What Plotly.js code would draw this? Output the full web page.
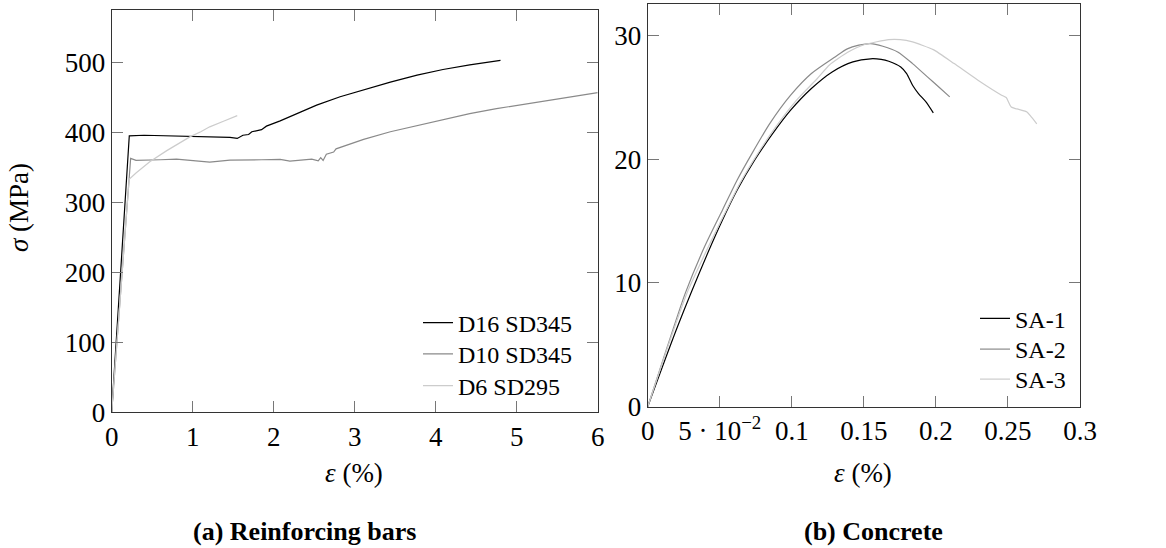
<!DOCTYPE html>
<html><head><meta charset="utf-8">
<script src="https://cdn.plot.ly/plotly-3.0.1.min.js"></script>
<style>html,body{margin:0;padding:0;background:#fff}#chart{width:1166px;height:548px}</style>
</head><body><div id="chart"></div>
<script>
// (a) Reinforcing bars: strain (%) vs stress (MPa)
const d16Strain = [0, 0.217, 0.4, 0.6, 0.8, 1.0, 1.2, 1.46, 1.55, 1.62, 1.69, 1.73, 1.85, 1.91, 2.08, 2.28, 2.53, 2.82, 3.11, 3.44, 3.77, 4.09, 4.42, 4.80];
const d16Stress = [0, 395, 396, 395.5, 395, 394.5, 394, 393, 391.4, 396, 397, 401, 404, 409, 416.6, 427, 439, 451, 461, 472, 482, 490, 496.5, 503];
const d10Strain = [0, 0.234, 0.3, 0.39, 0.6, 0.8, 1.0, 1.21, 1.46, 1.62, 1.85, 2.08, 2.20, 2.47, 2.55, 2.58, 2.61, 2.65, 2.70, 2.74, 2.77, 2.86, 3.11, 3.44, 3.77, 4.09, 4.42, 4.75, 5.08, 5.41, 5.74, 6.0];
const d10Stress = [0, 363, 360, 360, 361, 362, 360, 357.6, 360.4, 361, 361, 361.4, 359, 361.9, 359.5, 364, 360, 369, 371, 372, 376.6, 380, 390, 401, 410, 419, 427, 434, 440, 447, 452, 457];
const d6Strain = [0, 0.215, 0.3, 0.47, 0.68, 0.8, 0.97, 1.1, 1.21, 1.38, 1.55];
const d6Stress = [0, 333, 342, 358, 374, 382, 394, 401, 408, 416, 424];

// (b) Concrete: strain (%) vs stress (MPa)
const sa1Strain = [0, 0.0208, 0.0416, 0.0519, 0.0621, 0.0745, 0.0868, 0.0992, 0.1136, 0.128, 0.1424, 0.1547, 0.162, 0.1673, 0.1756, 0.1797, 0.1838, 0.1879, 0.1931, 0.1982];
const sa1Stress = [0, 6.5, 12.39, 15.08, 17.5, 19.97, 22.07, 23.95, 25.7, 27.04, 27.85, 28.1, 28.05, 27.9, 27.44, 26.9, 25.96, 25.29, 24.62, 23.73];
const sa2Strain = [0, 0.0135, 0.0261, 0.0395, 0.0519, 0.0621, 0.0724, 0.0848, 0.0992, 0.1136, 0.13, 0.1385, 0.1465, 0.1547, 0.1632, 0.1735, 0.1838, 0.1941, 0.2024, 0.2096];
const sa2Stress = [0, 4.8, 9.17, 12.93, 15.89, 18.31, 20.46, 22.88, 25.16, 26.91, 28.25, 28.9, 29.2, 29.33, 29.11, 28.65, 27.71, 26.64, 25.78, 25.02];
const sa3Strain = [0, 0.0138, 0.0272, 0.0405, 0.0529, 0.064, 0.0765, 0.0889, 0.1033, 0.1177, 0.1261, 0.1385, 0.1506, 0.1673, 0.1753, 0.1838, 0.1982, 0.2127, 0.2292, 0.2456, 0.2488, 0.2523, 0.2632, 0.2655, 0.2700];
const sa3Stress = [0, 4.8, 9.17, 12.53, 15.48, 18.04, 20.46, 22.6, 24.76, 26.51, 27.6, 28.6, 29.25, 29.65, 29.65, 29.46, 28.84, 27.71, 26.37, 25.16, 24.97, 24.21, 23.81, 23.5, 22.85];

const xTicksA = [0, 1, 2, 3, 4, 5, 6];
const yTicksA = [0, 100, 200, 300, 400, 500];
const xTicksB = [0, 0.05, 0.1, 0.15, 0.2, 0.25, 0.3];
const xTickTextB = ['0', '5 · 10<sup>−2</sup>', '0.1', '0.15', '0.2', '0.25', '0.3'];
const yTicksB = [0, 10, 20, 30];

const SERIF = 'Liberation Serif';
const cBlack = '#000000', cGray = '#8a8a8a', cLight = '#cccccc';

const traces = [
  {x: d16Strain, y: d16Stress, name: 'D16 SD345', line: {color: cBlack, width: 1.2}, xaxis: 'x', yaxis: 'y', legend: 'legend'},
  {x: d10Strain, y: d10Stress, name: 'D10 SD345', line: {color: cGray, width: 1.2}, xaxis: 'x', yaxis: 'y', legend: 'legend2'},
  {x: d6Strain, y: d6Stress, name: 'D6 SD295', line: {color: cLight, width: 1.2}, xaxis: 'x', yaxis: 'y', legend: 'legend3'},
  {x: sa1Strain, y: sa1Stress, name: 'SA-1', line: {color: cBlack, width: 1.2, shape: 'spline', smoothing: 0.7}, xaxis: 'x2', yaxis: 'y2', legend: 'legend4'},
  {x: sa2Strain, y: sa2Stress, name: 'SA-2', line: {color: cGray, width: 1.2, shape: 'spline', smoothing: 0.7}, xaxis: 'x2', yaxis: 'y2', legend: 'legend5'},
  {x: sa3Strain, y: sa3Stress, name: 'SA-3', line: {color: cLight, width: 1.2, shape: 'spline', smoothing: 0.5}, xaxis: 'x2', yaxis: 'y2', legend: 'legend6'}
].map(t => Object.assign({type: 'scatter', mode: 'lines', hoverinfo: 'skip'}, t));

const axisBase = {
  showline: true, linecolor: '#333', linewidth: 1, mirror: 'ticks',
  ticks: 'inside', ticklen: 11, tickwidth: 1, tickcolor: '#777',
  showgrid: false, zeroline: false, fixedrange: true,
  tickfont: {family: SERIF, size: 27, color: '#000'}
};

const W = 1166, H = 548;
function leg(xpx, toppx) {
  return {x: xpx / W, y: 1 - toppx / H, xanchor: 'left', yanchor: 'top', bgcolor: 'rgba(0,0,0,0)', borderwidth: 0,
    font: {family: SERIF, size: 24, color: '#000'}, tracegroupgap: 0};
}
const layout = {
  width: W, height: H,
  margin: {l: 0, r: 0, t: 0, b: 0},
  font: {family: SERIF, color: '#000'},
  paper_bgcolor: '#fff', plot_bgcolor: '#fff',
  showlegend: true,
  xaxis: Object.assign({}, axisBase, {domain: [111.7 / W, 597.7 / W], range: [0, 6], tickvals: xTicksA, ticktext: xTicksA.map(String), anchor: 'y'}),
  yaxis: Object.assign({}, axisBase, {domain: [1 - 412.3 / H, 1 - 10 / H], range: [0, 575], tickvals: yTicksA, ticktext: yTicksA.map(String), anchor: 'x'}),
  xaxis2: Object.assign({}, axisBase, {domain: [647.7 / W, 1080 / W], range: [0, 0.3], tickvals: xTicksB, ticktext: xTickTextB, anchor: 'y2'}),
  yaxis2: Object.assign({}, axisBase, {domain: [1 - 406.7 / H, 1 - 4.3 / H], range: [0, 32.5], tickvals: yTicksB, ticktext: yTicksB.map(String), anchor: 'x2'}),
  legend: leg(418, 300.5),
  legend2: leg(418, 331.8),
  legend3: leg(418, 363.5),
  legend4: leg(975, 296.3),
  legend5: leg(975, 327),
  legend6: leg(975, 357),
  annotations: [
    {text: '<i>ε</i> (%)', x: 354 / W, y: 1 - 473 / H, xref: 'paper', yref: 'paper', showarrow: false, xanchor: 'center', yanchor: 'middle', font: {family: SERIF, size: 27, color: '#000'}},
    {text: '<i>ε</i> (%)', x: 863 / W, y: 1 - 473 / H, xref: 'paper', yref: 'paper', showarrow: false, xanchor: 'center', yanchor: 'middle', font: {family: SERIF, size: 27, color: '#000'}},
    {text: '<i>σ</i> (MPa)', x: 19 / W, y: 1 - 208 / H, xref: 'paper', yref: 'paper', showarrow: false, textangle: -90, xanchor: 'center', yanchor: 'middle', font: {family: SERIF, size: 27, color: '#000'}},
    {text: '<b>(a) Reinforcing bars</b>', x: 304 / W, y: 1 - 531 / H, xref: 'paper', yref: 'paper', showarrow: false, xanchor: 'center', yanchor: 'middle', font: {family: SERIF, size: 26, color: '#000'}},
    {text: '<b>(b) Concrete</b>', x: 873 / W, y: 1 - 531 / H, xref: 'paper', yref: 'paper', showarrow: false, xanchor: 'center', yanchor: 'middle', font: {family: SERIF, size: 26, color: '#000'}}
  ]
};

Plotly.newPlot('chart', traces, layout, {staticPlot: true, displayModeBar: false});
</script>
</body></html>
